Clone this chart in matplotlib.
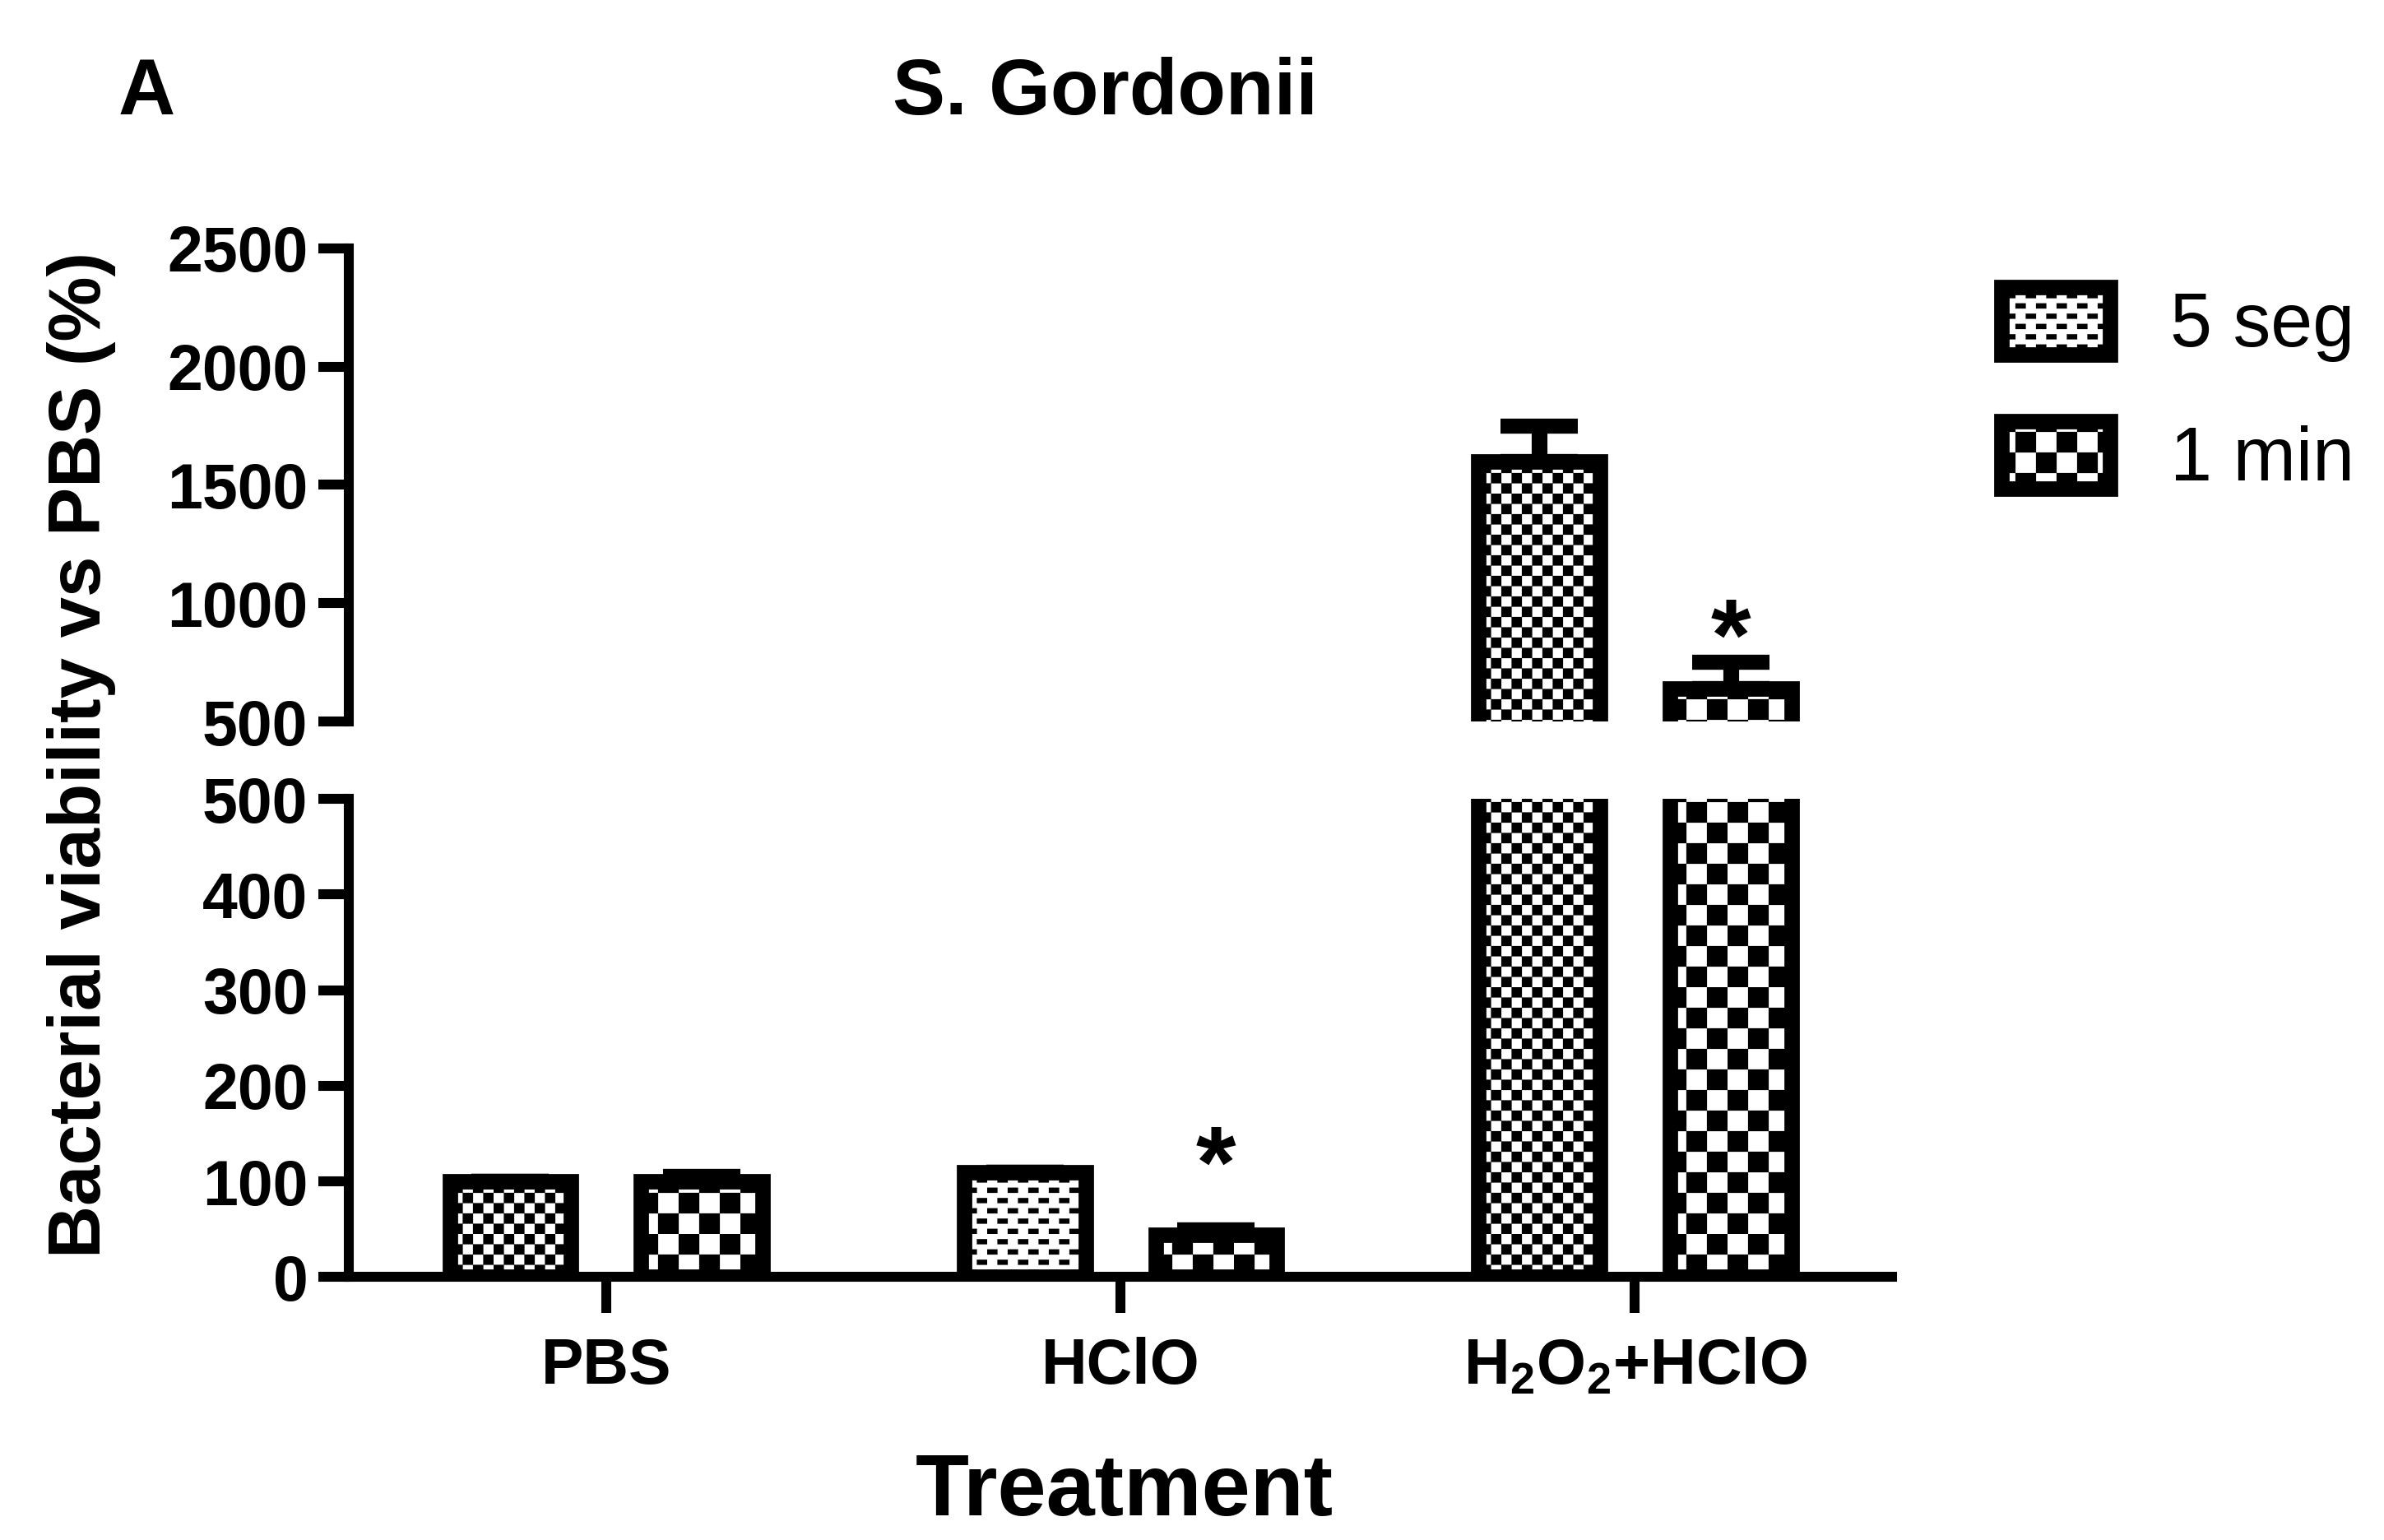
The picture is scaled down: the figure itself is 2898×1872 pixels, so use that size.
import warnings
import numpy as np
import matplotlib
matplotlib.use('Agg')
import matplotlib.pyplot as plt
from matplotlib import hatch as mhatch
from matplotlib.path import Path
from matplotlib.patches import Patch

warnings.filterwarnings('ignore')

# data (mean + upper SD, % of PBS)
categories = ['PBS', 'HClO', r'$\mathbf{H_2O_2}$+HClO']
series = ['5 seg', '1 min']
seg5 = [100, 110, 1600]
seg5_err = [0, 0, 150]
min1 = [100, 44, 640]
min1_err = [5, 5, 110]
star_idx = [1, 2]          # 1 min bars marked with *
star_y = [111, 827]

# fill patterns (GraphPad style)
seg5_hatch = ['cc', 'd', 'cc']
min1_hatch = ['c', 'c', 'c']


class Checker(mhatch.HatchPatternBase):
    # filled checkerboard: 'c' -> 12 cells per inch, 'cc' -> 24
    filled = True

    def __init__(self, hatch, density):
        self.n = 12 * hatch.count('c')
        self.num_vertices = 5 * (self.n * self.n // 2)

    def set_vertices_and_codes(self, vertices, codes):
        s = 1.0 / self.n
        sq = np.array([[0, 0], [s, 0], [s, s], [0, s], [0, 0]])
        parts = [sq + [i * s, j * s] for i in range(self.n)
                 for j in range(self.n) if (i + j) % 2 == 0]
        vertices[:] = np.concatenate(parts)
        codes[:] = np.tile([Path.MOVETO, Path.LINETO, Path.LINETO,
                            Path.LINETO, Path.CLOSEPOLY], len(parts))


class Dots(mhatch.HatchPatternBase):
    # staggered small rectangles
    filled = True

    def __init__(self, hatch, density):
        self.n = 12 * hatch.count('d')
        self.num_vertices = 5 * (2 * self.n * self.n)

    def set_vertices_and_codes(self, vertices, codes):
        w = 1.0 / self.n
        h = w / 2
        dot = np.array([[0, 0], [w / 2, 0], [w / 2, h / 2], [0, h / 2], [0, 0]])
        parts = []
        for r in range(2 * self.n):
            shift = (r % 2) * w / 2
            for c in range(self.n):
                parts.append(dot + [c * w + shift, r * h])
        vertices[:] = np.concatenate(parts)
        codes[:] = np.tile([Path.MOVETO, Path.LINETO, Path.LINETO,
                            Path.LINETO, Path.CLOSEPOLY], len(parts))


mhatch._hatch_types.extend([Checker, Dots])

plt.rcParams['font.family'] = ['Liberation Sans', 'DejaVu Sans']
plt.rcParams['font.weight'] = 'bold'
plt.rcParams['mathtext.fontset'] = 'custom'
plt.rcParams['mathtext.bf'] = 'Liberation Sans:bold'
plt.rcParams['mathtext.rm'] = 'Liberation Sans'
plt.rcParams['hatch.linewidth'] = 0.05

fig = plt.figure(figsize=(9.66, 6.24), dpi=300)
ax_lo = fig.add_axes([0.1463, 0.1707, 0.6474, 0.3106])
ax_hi = fig.add_axes([0.1463, 0.5315, 0.6474, 0.3072])

x = np.arange(len(categories))
w = 0.236
off = 0.186
lw = 4.5

for ax in (ax_lo, ax_hi):
    b1 = ax.bar(x - off, seg5, w, color='white', edgecolor='black', linewidth=lw)
    b2 = ax.bar(x + off, min1, w, color='white', edgecolor='black', linewidth=lw)
    for bar, h in zip(b1, seg5_hatch):
        bar.set_hatch(h)
    for bar, h in zip(b2, min1_hatch):
        bar.set_hatch(h)
    ax.errorbar(x - off, seg5, yerr=[np.zeros(len(seg5)), seg5_err], fmt='none',
                ecolor='black', elinewidth=4.6, capsize=11.3, capthick=4.4)
    ax.errorbar(x + off, min1, yerr=[np.zeros(len(min1)), min1_err], fmt='none',
                ecolor='black', elinewidth=4.6, capsize=11.3, capthick=4.4)
    for i, yv in zip(star_idx, star_y):
        ax.text(x[i] + off, yv, '*', ha='center', va='center', fontsize=30,
                fontweight='bold', clip_on=True)
    ax.set_xlim(-0.5, 2.5)
    ax.spines['top'].set_visible(False)
    ax.spines['right'].set_visible(False)
    ax.spines['left'].set_linewidth(2.9)
    ax.spines['bottom'].set_linewidth(2.9)
    ax.tick_params(axis='y', which='major', direction='out', length=8.9, width=2.9,
                   labelsize=18.5, pad=3)
    ax.tick_params(axis='y', which='minor', direction='in', length=7.4, width=2.9)
    ax.set_yticks([500], minor=True)

ax_lo.set_ylim(0, 500)
ax_lo.set_yticks(np.arange(0, 501, 100))
ax_lo.set_xticks(x)
ax_lo.set_xticklabels(categories)
ax_lo.tick_params(axis='x', direction='out', length=10.5, width=2.9, labelsize=18.5, pad=7)

ax_hi.set_ylim(500, 2500)
ax_hi.set_yticks(np.arange(500, 2501, 500))
ax_hi.spines['bottom'].set_visible(False)
ax_hi.set_xticks([])

fig.text(1367 / 2898, 1 - 1842 / 1872, 'Treatment', ha='center', va='baseline',
         fontsize=25.5)
fig.text(141 / 2898, 0.51, 'Bacterial viability vs PBS (%)', rotation=90,
         ha='right', va='center', fontsize=21.3)
fig.text(178 / 2898, 1 - 139 / 1872, 'A', ha='center', va='baseline', fontsize=23)
fig.text(1343 / 2898, 1 - 139 / 1872, 'S. Gordonii', ha='center', va='baseline',
         fontsize=23)

handles = [Patch(facecolor='white', edgecolor='black', linewidth=lw, hatch='d'),
           Patch(facecolor='white', edgecolor='black', linewidth=lw, hatch='c')]
fig.legend(handles, series, loc='upper left', bbox_to_anchor=(2433 / 2898, 1 - 349 / 1872),
           frameon=False, borderpad=0, borderaxespad=0, handlelength=1.44,
           handleheight=1.0, handletextpad=0.8, labelspacing=0.78,
           prop={'size': 22, 'weight': 'normal'})

fig.savefig('out.png', dpi=300, facecolor='white')
